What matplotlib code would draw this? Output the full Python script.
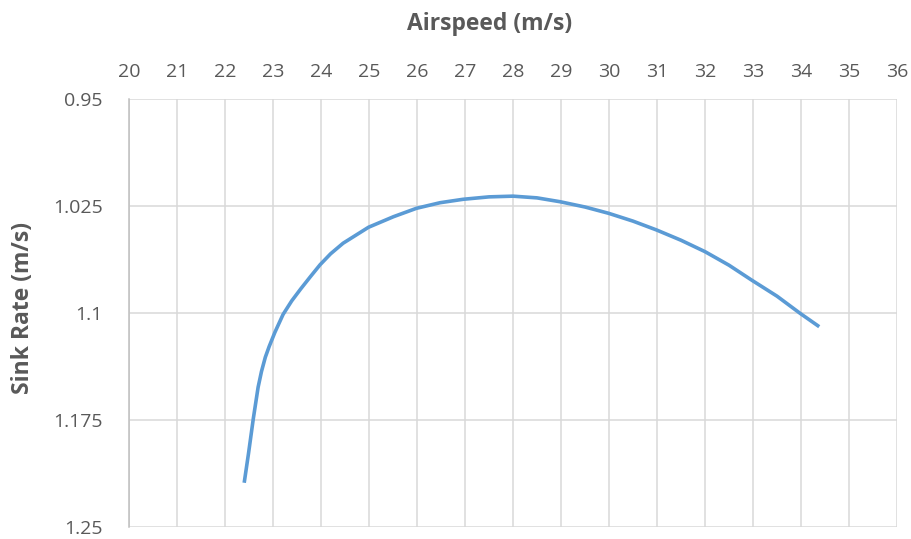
import matplotlib
matplotlib.use("Agg")
import matplotlib.pyplot as plt

plt.rcParams['font.family'] = ['Open Sans', 'DejaVu Sans']

# Glide polar: airspeed vs sink rate
airspeed = [22.40, 22.49, 22.59, 22.69, 22.76, 22.84, 22.92, 23.04, 23.21, 23.39,
            23.58, 23.78, 23.98, 24.20, 24.46, 24.99, 25.51, 25.99, 26.48, 26.96,
            27.50, 28.00, 28.50, 28.98, 29.50, 29.99, 30.50, 30.99, 31.50, 32.00,
            32.50, 32.97, 33.50, 33.98, 34.38]
sink_rate = [1.2190, 1.1984, 1.1740, 1.1520, 1.1410, 1.1310, 1.1235, 1.1135, 1.1010, 1.0915,
             1.0830, 1.0745, 1.0662, 1.0585, 1.0511, 1.0399, 1.0325, 1.0266, 1.0227, 1.0203,
             1.0186, 1.0181, 1.0193, 1.0220, 1.0257, 1.0301, 1.0356, 1.0418, 1.0490, 1.0570,
             1.0665, 1.0769, 1.0882, 1.1002, 1.1096]

x_ticks = list(range(20, 37))
y_ticks = [0.95, 1.025, 1.1, 1.175, 1.25]
y_tick_labels = ['0.95', '1.025', '1.1', '1.175', '1.25']

text_color = '#595959'
grid_color = '#d9d9d9'

fig = plt.figure(figsize=(9.12, 5.39), dpi=100)
ax = fig.add_axes([129 / 912, 1 - 527 / 539, 768 / 912, 428 / 539])

ax.plot(airspeed, sink_rate, color='#5B9BD5', linewidth=2.6,
        solid_capstyle='butt', solid_joinstyle='round')

ax.set_xlim(20, 36)
ax.set_ylim(1.25, 0.95)
ax.set_xticks(x_ticks)
ax.set_yticks(y_ticks)
ax.set_yticklabels(y_tick_labels)

ax.xaxis.tick_top()
ax.tick_params(axis='x', length=0, pad=13, labelsize=14, labelcolor=text_color)
ax.tick_params(axis='y', length=0, pad=19, labelsize=14, labelcolor=text_color)

ax.grid(True, color=grid_color, linewidth=1.1)
ax.set_axisbelow(True)
for side in ['top', 'bottom', 'right']:
    ax.spines[side].set_visible(False)
ax.spines['left'].set_color('#bfbfbf')
ax.spines['left'].set_linewidth(1.1)

fig.text(490 / 912, 1 - 24 / 539, 'Airspeed (m/s)', ha='center', va='center',
         fontsize=16.5, fontweight='bold', color=text_color)
fig.text(23 / 912, 1 - 308 / 539, 'Sink Rate (m/s)', ha='center', va='center',
         rotation=90, fontsize=16.5, fontweight='bold', color=text_color)

fig.savefig('out.png', dpi=100)
